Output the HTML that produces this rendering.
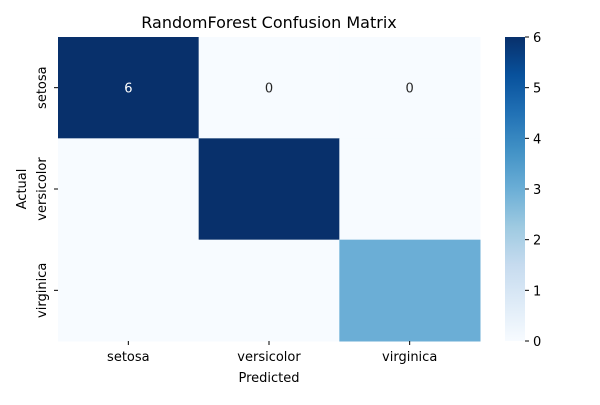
<!DOCTYPE html>
<html><head><meta charset="utf-8"><style>
body{margin:0;background:#fff;font-family:"Liberation Sans","DejaVu Sans",sans-serif;}
svg text{font-family:"DejaVu Sans","Liberation Sans",sans-serif;}
</style></head><body>
<svg id="chart" width="600" height="400">
<defs><linearGradient id="blues" x1="0" y1="1" x2="0" y2="0">
<stop offset="0" stop-color="#f7fbff"/><stop offset="0.125" stop-color="#deebf7"/><stop offset="0.25" stop-color="#c6dbef"/><stop offset="0.375" stop-color="#9ecae1"/><stop offset="0.5" stop-color="#6baed6"/><stop offset="0.625" stop-color="#4292c6"/><stop offset="0.75" stop-color="#2171b5"/><stop offset="0.875" stop-color="#08519c"/><stop offset="1" stop-color="#08306b"/>
</linearGradient></defs>
<text x="269" y="28" font-size="16" text-anchor="middle">RandomForest Confusion Matrix</text>
<g id="cells"></g><g id="xt"></g><g id="yt"></g>
<text x="269" y="382" font-size="13" text-anchor="middle">Predicted</text>
<text transform="translate(26,189) rotate(-90)" font-size="13" text-anchor="middle">Actual</text>
<rect x="505" y="37" width="20" height="304" fill="url(#blues)"/>
<g id="cb"></g>
</svg>
<script>
const categories=["setosa","versicolor","virginica"];
const matrix=[[6,0,0],[0,6,0],[0,0,3]];
const annotatedRows=[0];
const cbTicks=[0,1,2,3,4,5,6];
const vmin=0,vmax=6;
const L=58,T=37,W=422,H=304,n=categories.length;
const cw=W/n,ch=H/n;
const stops=[[247,251,255],[222,235,247],[198,219,239],[158,202,225],[107,174,214],[66,146,198],[33,113,181],[8,81,156],[8,48,107]];
function color(v){let t=(v-vmin)/(vmax-vmin)*8;let i=Math.min(7,Math.floor(t)),f=t-i;const a=stops[i],b=stops[i+1];return `rgb(${a.map((x,k)=>Math.round(x+(b[k]-x)*f)).join(',')})`;}
const NS="http://www.w3.org/2000/svg";
function mk(tag,attrs,parent,txt){const e=document.createElementNS(NS,tag);for(const k in attrs)e.setAttribute(k,attrs[k]);if(txt!==undefined)e.textContent=txt;parent.appendChild(e);return e;}
const cells=document.getElementById('cells');
matrix.forEach((row,r)=>row.forEach((v,c)=>{
 const rc=mk('rect',{x:L+c*cw,y:T+r*ch,width:cw+0.5,height:ch+0.5,fill:color(v)},cells);
 
 
 if(annotatedRows.includes(r)){
  const t=mk('text',{x:L+(c+0.5)*cw,y:T+(r+0.5)*ch+5,'font-size':13,'text-anchor':'middle',fill:v>(vmax/2)?'#fff':'#262626'},cells,String(v));
  
  
 }
}));
const xt=document.getElementById('xt'),yt=document.getElementById('yt');
categories.forEach((c,i)=>{
 const x=L+(i+0.5)*cw;
 mk('line',{x1:x,x2:x,y1:T+H,y2:T+H+4,stroke:'#000'},xt);
 const t=mk('text',{x:x,y:T+H+20,'font-size':13,'text-anchor':'middle'},xt,c);
 
 
 const y=T+(i+0.5)*ch;
 mk('line',{x1:L-4,x2:L,y1:y,y2:y,stroke:'#000'},yt);
 const u=mk('text',{transform:`translate(46,${y}) rotate(-90)`,'font-size':13,'text-anchor':'middle'},yt,c);
 
 
});
const cb=document.getElementById('cb');
cbTicks.forEach(v=>{
 const y=T+H-(v-vmin)/(vmax-vmin)*H;
 mk('line',{x1:525,x2:529,y1:y,y2:y,stroke:'#000'},cb);
 const t=mk('text',{x:533,y:y+5,'font-size':13},cb,String(v));
 
 
});
</script>
</body></html>
